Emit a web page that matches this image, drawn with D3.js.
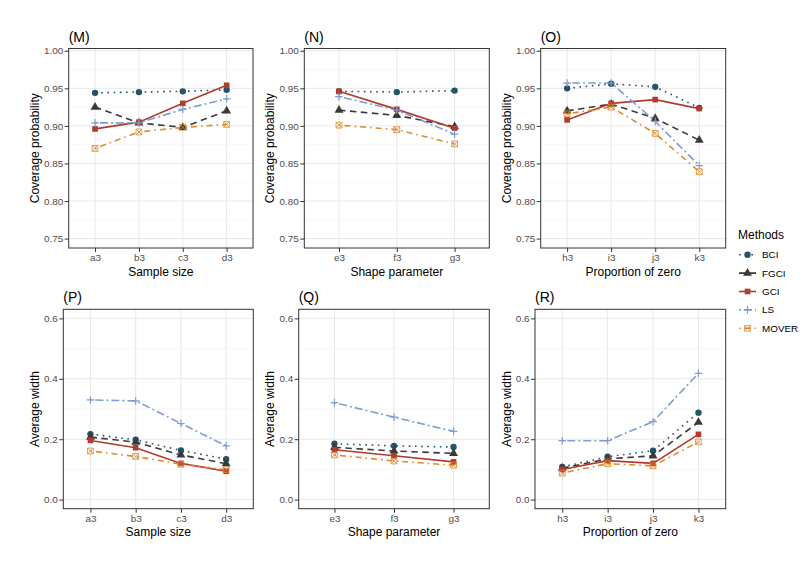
<!DOCTYPE html>
<html>
<head>
<meta charset="utf-8">
<script src="https://cdn.jsdelivr.net/npm/d3@7"></script>
<style>
  body { margin: 0; background: #fff; }
  svg { font-family: "Liberation Sans", Arial, sans-serif; }
</style>
</head>
<body>
<div id="chart"></div>
<script>
// categories
const methods = ["BCI", "FGCI", "GCI", "LS", "MOVER"];
const sampleSize = ["a3", "b3", "c3", "d3"];
const shapeParam = ["e3", "f3", "g3"];
const propZero = ["h3", "i3", "j3", "k3"];

// tick labels
const covTicks = [0.75, 0.80, 0.85, 0.90, 0.95, 1.00];
const widTicks = [0.0, 0.2, 0.4, 0.6];

// coverage probability, rows follow methods
const covSample = [
    [0.944, 0.945, 0.946, 0.948],
    [0.925, 0.904, 0.898, 0.920],
    [0.896, 0.905, 0.930, 0.954],
    [0.904, 0.904, 0.922, 0.936],
    [0.870, 0.892, 0.898, 0.902]
];
const covShape = [
    [0.946, 0.945, 0.947],
    [0.921, 0.914, 0.899],
    [0.946, 0.922, 0.897],
    [0.939, 0.921, 0.889],
    [0.901, 0.895, 0.876]
];
const covZero = [
    [0.950, 0.956, 0.952, 0.924],
    [0.920, 0.929, 0.910, 0.881],
    [0.908, 0.930, 0.935, 0.923],
    [0.957, 0.957, 0.906, 0.847],
    [0.916, 0.925, 0.890, 0.839]
];

// average width, rows follow methods
const widSample = [
    [0.217, 0.198, 0.163, 0.134],
    [0.207, 0.190, 0.148, 0.119],
    [0.196, 0.172, 0.120, 0.094],
    [0.330, 0.327, 0.252, 0.178],
    [0.161, 0.143, 0.117, 0.099]
];
const widShape = [
    [0.185, 0.178, 0.174],
    [0.173, 0.161, 0.153],
    [0.165, 0.145, 0.125],
    [0.321, 0.273, 0.226],
    [0.148, 0.128, 0.114]
];
const widZero = [
    [0.108, 0.142, 0.162, 0.288],
    [0.104, 0.135, 0.145, 0.256],
    [0.100, 0.129, 0.120, 0.216],
    [0.195, 0.195, 0.258, 0.418],
    [0.088, 0.119, 0.112, 0.191]
];

const colors = {
    BCI: "#25536a",
    FGCI: "#3a3a3a",
    GCI: "#b23b30",
    LS: "#7f9dd2",
    MOVER: "#e08a2c"
};
const dashes = {
    BCI: "1.6,4.6",
    FGCI: "6.5,4.5",
    GCI: null,
    LS: "2,3,8,3",
    MOVER: "1.6,4,6,4"
};

const width = 810, height = 567;

const svg = d3.select("#chart")
    .append("svg")
    .attr("width", width)
    .attr("height", height);

// marker path per method, centred on 0,0
const marker = (name) => {
    if (name === "BCI") return d3.symbol(d3.symbolCircle, 32)();
    if (name === "FGCI") return d3.symbol(d3.symbolTriangle, 34)();
    if (name === "GCI") return d3.symbol(d3.symbolSquare, 32)();
    if (name === "LS") return "M-3.8,0H3.8M0,-3.8V3.8";
    return "M-2.9,-2.9H2.9V2.9H-2.9ZM-2.9,-2.9L2.9,2.9M2.9,-2.9L-2.9,2.9";
};

const drawMarker = (g, name, x, y) => {
    const hollow = name === "LS" || name === "MOVER";
    g.append("path")
        .attr("d", marker(name))
        .attr("transform", `translate(${x},${y})`)
        .attr("fill", hollow ? "none" : colors[name])
        .attr("stroke", hollow ? colors[name] : "none")
        .attr("stroke-width", name === "MOVER" ? 1 : 1.2)
        .attr("stroke-opacity", name === "MOVER" ? 0.8 : 1);
};

const panels = [
    { title: "(M)", cats: sampleSize, values: covSample, ticks: covTicks, dom: [0.7375, 1.003], fmt: ".2f",
      xt: "Sample size", yt: "Coverage probability", l: 68.7, r: 253, t: 48.5, b: 248, ytx: 35.8 },
    { title: "(N)", cats: shapeParam, values: covShape, ticks: covTicks, dom: [0.7375, 1.003], fmt: ".2f",
      xt: "Shape parameter", yt: "Coverage probability", l: 304.3, r: 489.3, t: 48.5, b: 248, ytx: 271.3 },
    { title: "(O)", cats: propZero, values: covZero, ticks: covTicks, dom: [0.7375, 1.003], fmt: ".2f",
      xt: "Proportion of zero", yt: "Coverage probability", l: 540.7, r: 725.7, t: 48.5, b: 248, ytx: 507.7 },
    { title: "(P)", cats: sampleSize, values: widSample, ticks: widTicks, dom: [-0.03, 0.63], fmt: ".1f",
      xt: "Sample size", yt: "Average width", l: 63.3, r: 253.3, t: 309.3, b: 508.7, ytx: 35.8 },
    { title: "(Q)", cats: shapeParam, values: widShape, ticks: widTicks, dom: [-0.03, 0.63], fmt: ".1f",
      xt: "Shape parameter", yt: "Average width", l: 298.7, r: 489.3, t: 309.3, b: 508.7, ytx: 271.2 },
    { title: "(R)", cats: propZero, values: widZero, ticks: widTicks, dom: [-0.03, 0.63], fmt: ".1f",
      xt: "Proportion of zero", yt: "Average width", l: 535, r: 725.7, t: 309.3, b: 508.7, ytx: 507.5 }
];

panels.forEach((p) => {
    const g = svg.append("g");

    const x = d3.scalePoint()
        .domain(p.cats)
        .range([p.l, p.r])
        .padding(0.6);

    const y = d3.scaleLinear()
        .domain(p.dom)
        .range([p.b, p.t]);

    // minor grid between major ticks
    const minor = d3.pairs(p.ticks).map(([a, b]) => (a + b) / 2);
    g.selectAll(".minor")
        .data(minor)
        .enter().append("line")
        .attr("x1", p.l).attr("x2", p.r)
        .attr("y1", (d) => y(d)).attr("y2", (d) => y(d))
        .attr("stroke", "#f2f2f2")
        .attr("stroke-width", 0.6);

    g.selectAll(".major")
        .data(p.ticks)
        .enter().append("line")
        .attr("x1", p.l).attr("x2", p.r)
        .attr("y1", (d) => y(d)).attr("y2", (d) => y(d))
        .attr("stroke", "#e8e8e8")
        .attr("stroke-width", 1);

    g.selectAll(".vgrid")
        .data(p.cats)
        .enter().append("line")
        .attr("x1", (d) => x(d)).attr("x2", (d) => x(d))
        .attr("y1", p.t).attr("y2", p.b)
        .attr("stroke", "#e8e8e8")
        .attr("stroke-width", 1);

    // axes
    const yAxis = g.append("g")
        .attr("transform", `translate(${p.l},0)`)
        .call(d3.axisLeft(y).tickValues(p.ticks).tickFormat(d3.format(p.fmt)).tickSize(4).tickPadding(1.5));

    const xAxis = g.append("g")
        .attr("transform", `translate(0,${p.b})`)
        .call(d3.axisBottom(x).tickSize(4).tickPadding(2));

    [xAxis, yAxis].forEach((a) => {
        a.select(".domain").remove();
        a.selectAll(".tick line").attr("stroke", "#333333");
        a.selectAll("text")
            .attr("fill", "#4d4d4d")
            .attr("font-size", "9.9px")
            .attr("font-family", "Liberation Sans, Arial, sans-serif");
    });

    // series
    const line = d3.line()
        .x((d, i) => x(p.cats[i]))
        .y((d) => y(d));

    methods.forEach((m, k) => {
        g.append("path")
            .datum(p.values[k])
            .attr("d", line)
            .attr("fill", "none")
            .attr("stroke", colors[m])
            .attr("stroke-width", 1.6)
            .attr("stroke-dasharray", dashes[m]);
    });
    methods.forEach((m, k) => {
        p.values[k].forEach((v, i) => drawMarker(g, m, x(p.cats[i]), y(v)));
    });

    // panel border
    g.append("rect")
        .attr("x", p.l).attr("y", p.t)
        .attr("width", p.r - p.l).attr("height", p.b - p.t)
        .attr("fill", "none")
        .attr("stroke", "#333333")
        .attr("stroke-width", 1);

    // titles
    g.append("text")
        .attr("x", p.l)
        .attr("y", p.t - 7)
        .attr("font-size", "14px")
        .attr("fill", "#000")
        .text(p.title);

    g.append("text")
        .attr("x", (p.l + p.r) / 2)
        .attr("y", p.b + 27.5)
        .attr("text-anchor", "middle")
        .attr("font-size", "12px")
        .attr("fill", "#000")
        .text(p.xt);

    g.append("text")
        .attr("transform", `translate(${p.ytx + 3},${(p.t + p.b) / 2}) rotate(-90)`)
        .attr("text-anchor", "middle")
        .attr("font-size", "12px")
        .attr("fill", "#000")
        .text(p.yt);
});

// legend
const legend = svg.append("g").attr("transform", "translate(738,0)");

legend.append("text")
    .attr("x", 0)
    .attr("y", 238.5)
    .attr("font-size", "12px")
    .attr("fill", "#000")
    .text("Methods");

methods.forEach((m, k) => {
    const cy = 254.7 + k * 18.4;
    legend.append("line")
        .attr("x1", 1).attr("x2", 18)
        .attr("y1", cy).attr("y2", cy)
        .attr("stroke", colors[m])
        .attr("stroke-width", 1.6)
        .attr("stroke-dasharray", dashes[m]);
    drawMarker(legend, m, 9.5, cy);
    legend.append("text")
        .attr("x", 24)
        .attr("y", cy + 3.5)
        .attr("font-size", "9.9px")
        .attr("fill", "#000")
        .text(m);
});
</script>
</body>
</html>
